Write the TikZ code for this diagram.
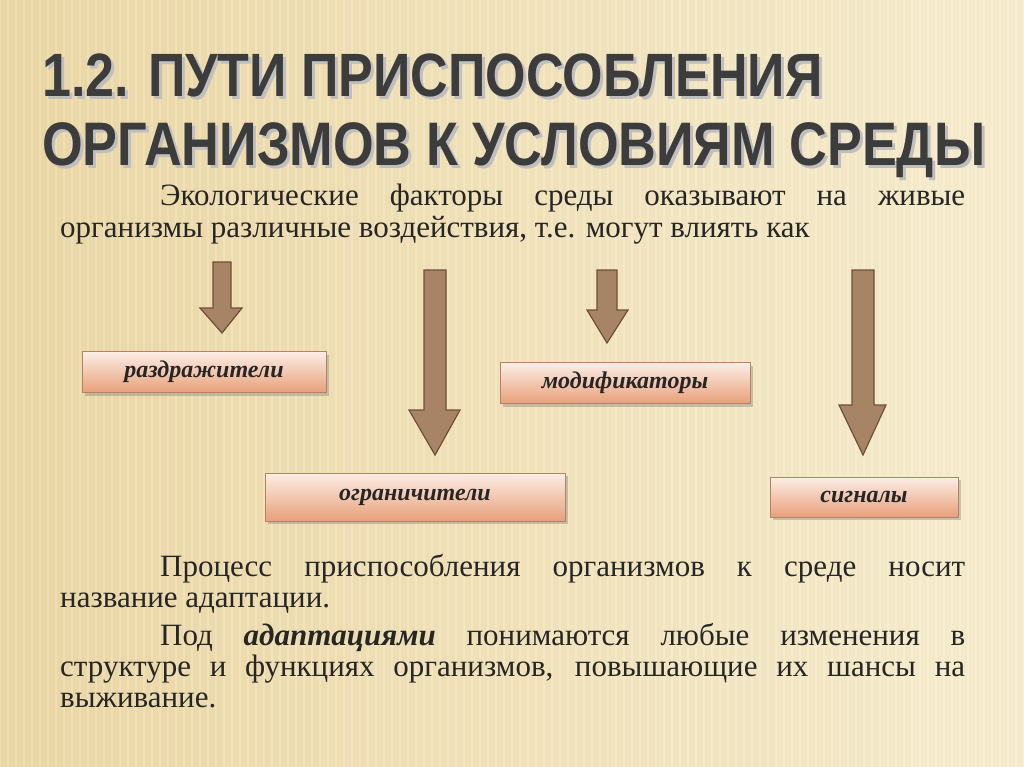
\documentclass[tikz,border=0pt]{standalone}
\usepackage{fontspec}
\setmainfont{Liberation Serif}
\newfontfamily\titlefont[FakeStretch=0.85]{Liberation Sans}
\usetikzlibrary{shadows}
\definecolor{bgA}{HTML}{EAD6A4}
\definecolor{bgB}{HTML}{F5EBCC}
\definecolor{arrfill}{HTML}{A88466}
\definecolor{arrdraw}{HTML}{6E5038}
\definecolor{boxtop}{HTML}{FCEEE6}
\definecolor{boxbot}{HTML}{E8A07A}
\definecolor{ttl}{HTML}{3C3C3C}
\begin{document}
\begin{tikzpicture}[x=1pt,y=-1pt,
  blockarrow/.style={fill=arrfill,draw=arrdraw,line width=1.2pt},
  factorbox/.style={draw=boxbot!80!black,line width=0.6pt,top color=boxtop,bottom color=boxbot,
     drop shadow={shadow xshift=3pt,shadow yshift=-3pt,opacity=0.4},
     font=\bfseries\itshape\fontsize{24}{28}\selectfont,text=black!85},
  bodytext/.style={anchor=base west,inner sep=0pt,font=\fontsize{31}{34}\selectfont,text=black!85},
  titletext/.style={anchor=base west,inner sep=0pt,text=ttl,font=\titlefont\bfseries}]
\useasboundingbox (0,0) rectangle (1024,767);
\shade[left color=bgA,right color=bgB] (0,0) rectangle (1024,767);
\foreach \i in {0,8,...,1024} \draw[white,opacity=0.2,line width=2.5pt] (\i,0) -- (\i,767);
% title
\node[titletext,text=black!25] (t1s) at (45,100) {\resizebox{780pt}{!}{1.2. ПУТИ ПРИСПОСОБЛЕНИЯ}};
\node[titletext] (t1) at (42,97) {\resizebox{780pt}{!}{1.2. ПУТИ ПРИСПОСОБЛЕНИЯ}};
\node[titletext,text=black!25] (t2s) at (45,169) {\resizebox{943pt}{!}{ОРГАНИЗМОВ К УСЛОВИЯМ СРЕДЫ}};
\node[titletext] (t2) at (42,166) {\resizebox{943pt}{!}{ОРГАНИЗМОВ К УСЛОВИЯМ СРЕДЫ}};
% body
\node[bodytext] (p1) at (160,206) {\makebox[805pt][s]{Экологические факторы среды оказывают на живые}};
\node[bodytext] (p2) at (60,237) {организмы различные воздействия, т.е. могут влиять как};
\node[bodytext] (p3) at (160,576) {\makebox[805pt][s]{Процесс приспособления организмов к среде носит}};
\node[bodytext] (p4) at (60,607) {название адаптации.};
\node[bodytext] (p5) at (160,645) {\makebox[805pt][s]{Под \textbf{\textit{адаптациями}} понимаются любые изменения в}};
\node[bodytext] (p6) at (60,676) {\makebox[905pt][s]{структуре и функциях организмов, повышающие их шансы на}};
\node[bodytext] (p7) at (60,707) {выживание.};
% arrows
\draw[blockarrow] (213,262) -- (231,262) -- (231,308) -- (242,308) -- (222,333) -- (200,308) -- (213,308) -- cycle;
\draw[blockarrow] (424,270) -- (446,270) -- (446,410) -- (460,410) -- (435,455) -- (409,410) -- (424,410) -- cycle;
\draw[blockarrow] (597,270) -- (617,270) -- (617,310) -- (628,310) -- (607,343) -- (587,310) -- (597,310) -- cycle;
\draw[blockarrow] (852,270) -- (874,270) -- (874,405) -- (886,405) -- (863,455) -- (839,405) -- (852,405) -- cycle;
% boxes
\node[factorbox,minimum width=244pt,minimum height=41pt] (b1) at (204,372) {раздражители};
\node[factorbox,minimum width=250pt,minimum height=41pt] (b2) at (625,383) {модификаторы};
\node[factorbox,minimum width=300pt,minimum height=48pt] (b3) at (415,497) {ограничители};
\node[factorbox,minimum width=188pt,minimum height=40pt] (b4) at (864,497) {сигналы};
\end{tikzpicture}
\end{document}
